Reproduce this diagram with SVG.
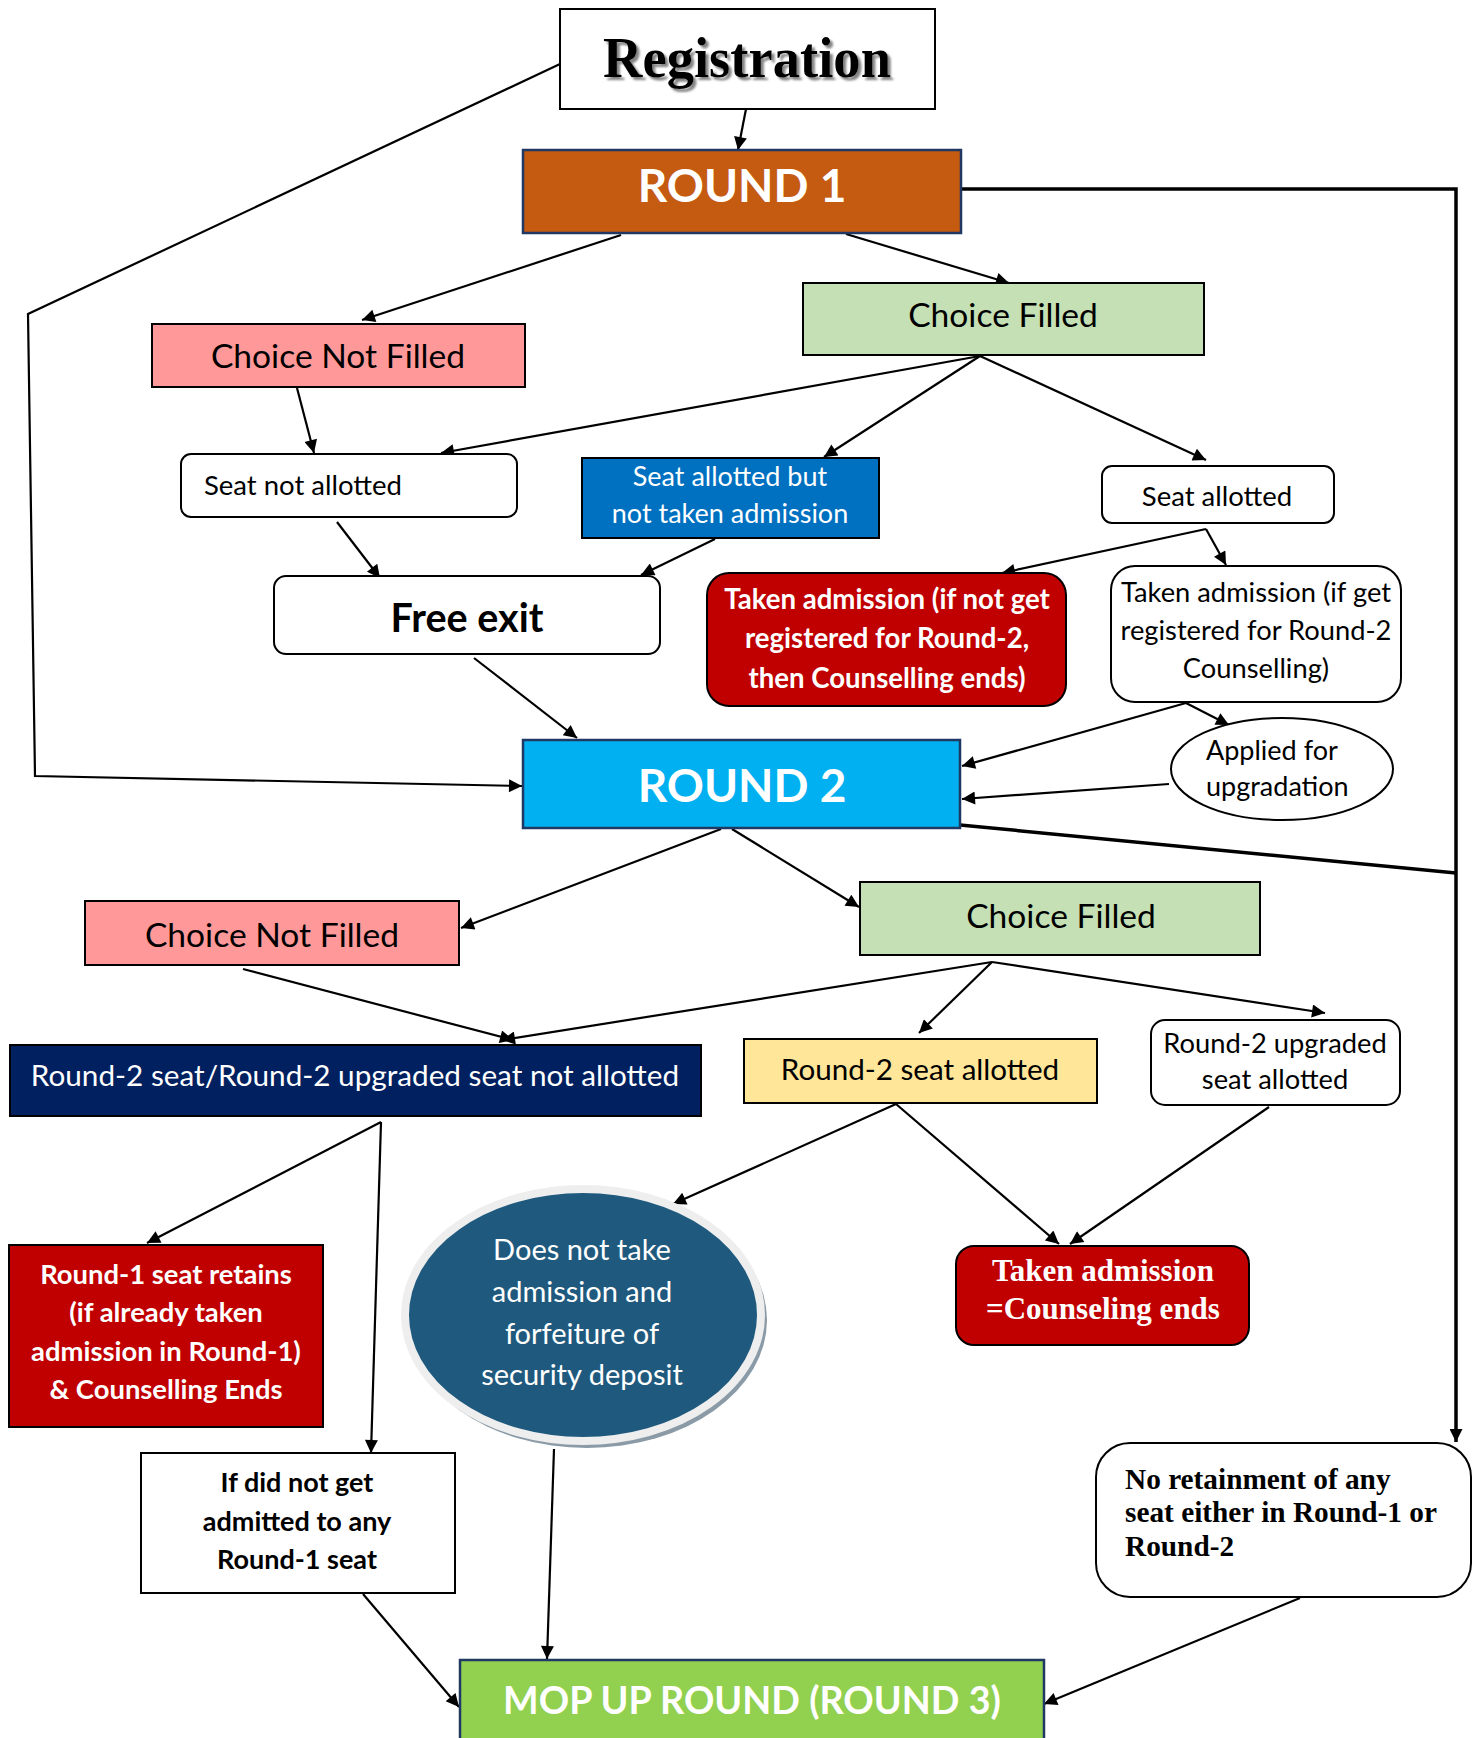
<svg xmlns="http://www.w3.org/2000/svg" width="1482" height="1738" viewBox="0 0 1482 1738">
<defs>
<marker id="ah" viewBox="0 0 10 10" refX="10" refY="5" markerWidth="18" markerHeight="13" markerUnits="userSpaceOnUse" orient="auto"><path d="M0,0 L10,5 L0,10 z" fill="#000"/></marker>
<filter id="tsh" x="-10%" y="-10%" width="130%" height="140%"><feDropShadow dx="3" dy="3" stdDeviation="1" flood-color="#777" flood-opacity="0.9"/></filter>
</defs>
<style>
.s{font-family:Lato,"Open Sans","Liberation Sans",sans-serif;}
.serif{font-family:"Liberation Serif","Times New Roman",serif;font-weight:bold;}
.b{font-weight:bold;}
.w{fill:#fff;}
.k{fill:#000;}
.c{text-anchor:middle;}
.box{stroke:#000;stroke-width:2;}
.nav{stroke:#1F3864;stroke-width:2.5;}
.con{fill:none;stroke:#000;stroke-width:2.2;}
.arr{marker-end:url(#ah);}
.thick{fill:none;stroke:#000;stroke-width:3.5;}
</style>
<rect width="1482" height="1738" fill="#fff"/>

<g id="connectors">
<line class="con arr" x1="746" y1="109" x2="738" y2="150"/>
<polyline class="con arr" points="560,64 28,314 35,776 522,786"/>
<path class="thick arr" d="M961,189 H1456 V1442"/>
<line class="thick" x1="960" y1="825" x2="1456" y2="873"/>
<line class="con arr" x1="621" y1="235" x2="362" y2="320"/>
<line class="con arr" x1="846" y1="234" x2="1009" y2="283"/>
<line class="con arr" x1="297" y1="388" x2="314" y2="453"/>
<line class="con arr" x1="980" y1="356" x2="441" y2="453"/>
<line class="con arr" x1="980" y1="356" x2="824" y2="457"/>
<line class="con arr" x1="980" y1="356" x2="1206" y2="460"/>
<line class="con arr" x1="337" y1="522" x2="380" y2="578"/>
<line class="con arr" x1="715" y1="539" x2="641" y2="575"/>
<line class="con arr" x1="1206" y1="529" x2="1002" y2="573"/>
<line class="con arr" x1="1206" y1="529" x2="1226" y2="565"/>
<line class="con arr" x1="474" y1="658" x2="577" y2="738"/>
<line class="con arr" x1="1186" y1="703" x2="962" y2="766"/>
<line class="con arr" x1="1186" y1="703" x2="1229" y2="725"/>
<line class="con arr" x1="1169" y1="784" x2="962" y2="799"/>
<line class="con arr" x1="721" y1="829" x2="461" y2="928"/>
<line class="con arr" x1="732" y1="829" x2="859" y2="907"/>
<line class="con arr" x1="243" y1="969" x2="513" y2="1040"/>
<line class="con arr" x1="992" y1="962" x2="502" y2="1040"/>
<line class="con arr" x1="992" y1="962" x2="919" y2="1033"/>
<line class="con arr" x1="992" y1="962" x2="1325" y2="1013"/>
<line class="con arr" x1="381" y1="1122" x2="147" y2="1243"/>
<line class="con arr" x1="381" y1="1122" x2="371" y2="1453"/>
<line class="con arr" x1="896" y1="1104" x2="673" y2="1204"/>
<line class="con arr" x1="896" y1="1104" x2="1059" y2="1244"/>
<line class="con arr" x1="1269" y1="1107" x2="1070" y2="1244"/>
<line class="con arr" x1="554" y1="1449" x2="547" y2="1659"/>
<line class="con arr" x1="363" y1="1594" x2="459" y2="1707"/>
<line class="con arr" x1="1300" y1="1598" x2="1044" y2="1704"/>
</g>

<g id="registration">
<rect class="box" x="560" y="9" width="375" height="100" fill="#fff"/>
<text class="serif c k" x="747" y="77" font-size="57" textLength="288" lengthAdjust="spacingAndGlyphs" filter="url(#tsh)">Registration</text>
</g>

<g id="round1">
<rect class="nav" x="523" y="150" width="438" height="83" fill="#C55A11"/>
<text class="s b c w" x="742" y="202" font-size="46">ROUND 1</text>
</g>

<g id="r1-choice-not-filled">
<rect class="box" x="152" y="324" width="373" height="63" fill="#FF9999"/>
<text class="s c k" x="338" y="368" font-size="33.6">Choice Not Filled</text>
</g>

<g id="r1-choice-filled">
<rect class="box" x="803" y="283" width="401" height="72" fill="#C5E0B4"/>
<text class="s c k" x="1003" y="327" font-size="33.6">Choice Filled</text>
</g>

<g id="seat-not-allotted">
<rect class="box" x="181" y="454" width="336" height="63" rx="10" fill="#fff"/>
<text class="s k" x="204" y="495" font-size="27.5">Seat not allotted</text>
</g>

<g id="seat-allotted-not-taken">
<rect class="box" x="582" y="458" width="297" height="80" fill="#0070C0"/>
<text class="s c w" x="730" y="486" font-size="27">Seat allotted but</text>
<text class="s c w" x="730" y="523" font-size="27">not taken admission</text>
</g>

<g id="seat-allotted">
<rect class="box" x="1102" y="466" width="232" height="57" rx="10" fill="#fff"/>
<text class="s c k" x="1217" y="506" font-size="27.5">Seat allotted</text>
</g>

<g id="free-exit">
<rect class="box" x="274" y="576" width="386" height="78" rx="12" fill="#fff"/>
<text class="s b c k" x="467" y="632" font-size="39.5">Free exit</text>
</g>

<g id="taken-admission-not-registered">
<rect class="box" x="707" y="573" width="359" height="133" rx="22" fill="#C00000"/>
<text class="s b c w" x="887" y="609" font-size="27.6">Taken admission (if not get</text>
<text class="s b c w" x="887" y="648" font-size="27.6">registered for Round-2,</text>
<text class="s b c w" x="887" y="688" font-size="27.6">then Counselling ends)</text>
</g>

<g id="taken-admission-registered">
<rect class="box" x="1111" y="566" width="290" height="136" rx="24" fill="#fff"/>
<text class="s c k" x="1256" y="602" font-size="27.3">Taken admission (if get</text>
<text class="s c k" x="1256" y="640" font-size="27.3">registered for Round-2</text>
<text class="s c k" x="1256" y="678" font-size="27.3">Counselling)</text>
</g>

<g id="applied-upgradation">
<ellipse cx="1282" cy="769" rx="111" ry="51" fill="#fff" stroke="#000" stroke-width="2"/>
<text class="s k" x="1206" y="760" font-size="27">Applied for</text>
<text class="s k" x="1206" y="796" font-size="27">upgradation</text>
</g>

<g id="round2">
<rect class="nav" x="523" y="740" width="437" height="88" fill="#00B0F0"/>
<text class="s b c w" x="742" y="802" font-size="46">ROUND 2</text>
</g>

<g id="r2-choice-not-filled">
<rect class="box" x="85" y="901" width="374" height="64" fill="#FF9999"/>
<text class="s c k" x="272" y="947" font-size="33.6">Choice Not Filled</text>
</g>

<g id="r2-choice-filled">
<rect class="box" x="860" y="882" width="400" height="73" fill="#C5E0B4"/>
<text class="s c k" x="1061" y="928" font-size="33.6">Choice Filled</text>
</g>

<g id="r2-not-allotted">
<rect class="box" x="10" y="1045" width="691" height="71" fill="#002060"/>
<text class="s c w" x="355" y="1086" font-size="29.7">Round-2 seat/Round-2 upgraded seat not allotted</text>
</g>

<g id="r2-seat-allotted">
<rect class="box" x="744" y="1039" width="353" height="64" fill="#FFE699"/>
<text class="s c k" x="920" y="1080" font-size="29.6">Round-2 seat allotted</text>
</g>

<g id="r2-upgraded-allotted">
<rect class="box" x="1151" y="1020" width="249" height="85" rx="14" fill="#fff"/>
<text class="s c k" x="1275" y="1053" font-size="27.3">Round-2 upgraded</text>
<text class="s c k" x="1275" y="1089" font-size="27.3">seat allotted</text>
</g>

<g id="round1-seat-retains">
<rect class="box" x="9" y="1245" width="314" height="182" fill="#C00000"/>
<text class="s b c w" x="166" y="1284" font-size="27.4">Round-1 seat retains</text>
<text class="s b c w" x="166" y="1322" font-size="27.4">(if already taken</text>
<text class="s b c w" x="166" y="1361" font-size="27.4">admission in Round-1)</text>
<text class="s b c w" x="166" y="1399" font-size="27.4">&amp; Counselling Ends</text>
</g>

<g id="forfeiture">
<ellipse cx="587" cy="1320" rx="180" ry="128" fill="#8A9AA6"/>
<ellipse cx="583" cy="1315" rx="178" ry="126" fill="#1F5A7E" stroke="#EEEEEE" stroke-width="8"/>
<text class="s c w" x="582" y="1260" font-size="29">Does not take</text>
<text class="s c w" x="582" y="1302" font-size="29">admission and</text>
<text class="s c w" x="582" y="1344" font-size="29">forfeiture of</text>
<text class="s c w" x="582" y="1385" font-size="29">security deposit</text>
</g>

<g id="taken-admission-ends">
<rect class="box" x="956" y="1246" width="293" height="99" rx="18" fill="#C00000"/>
<text class="serif c w" x="1103" y="1281" font-size="31">Taken admission</text>
<text class="serif c w" x="1103" y="1319" font-size="31">=Counseling ends</text>
</g>

<g id="not-admitted">
<rect class="box" x="141" y="1453" width="314" height="140" fill="#fff"/>
<text class="s b c k" x="297" y="1492" font-size="27">If did not get</text>
<text class="s b c k" x="297" y="1531" font-size="27">admitted to any</text>
<text class="s b c k" x="297" y="1569" font-size="27">Round-1 seat</text>
</g>

<g id="no-retainment">
<rect class="box" x="1096" y="1443" width="375" height="154" rx="34" fill="#fff"/>
<text class="serif k" x="1125" y="1489" font-size="29.3">No retainment of any</text>
<text class="serif k" x="1125" y="1522" font-size="29.3">seat either in Round-1 or</text>
<text class="serif k" x="1125" y="1556" font-size="29.3">Round-2</text>
</g>

<g id="mop-up">
<rect class="nav" x="460" y="1660" width="584" height="90" fill="#92D050"/>
<text class="s b c w" x="752" y="1714" font-size="37.7">MOP UP ROUND (ROUND 3)</text>
</g>
</svg>
